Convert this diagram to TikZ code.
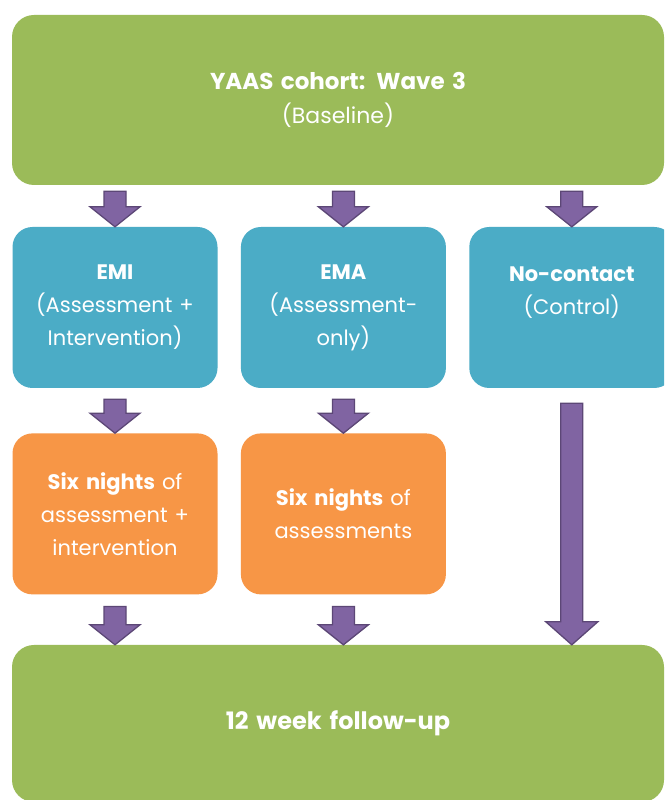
\documentclass[tikz,border=0pt]{standalone}
\usepackage{fontspec}
\setmainfont{Poppins}
\usetikzlibrary{calc,positioning}
\definecolor{wavegreen}{HTML}{9BBB59}
\definecolor{armblue}{HTML}{4BACC6}
\definecolor{nightorange}{HTML}{F79646}
\definecolor{arrowpurple}{HTML}{8064A2}
\definecolor{arrowedge}{HTML}{5C4776}
\tikzset{
		wavebox/.style={
			rectangle,
			rounded corners=22pt,
			fill=wavegreen,
			text=white,
			minimum width=652pt,
			minimum height=170pt,
			text width=640pt,
			align=center},
		armbox/.style={
			rectangle,
			rounded corners=20pt,
			minimum width=205pt,
			minimum height=161pt,
			text width=199pt,
			inner sep=0pt,
			align=center,
			text=white,
			font=\fontsize{21}{33}\selectfont},
		bluebox/.style={armbox, fill=armblue},
		orangebox/.style={armbox, fill=nightorange},
		fatarrow/.style={fill=arrowpurple, draw=arrowedge, line width=1.3pt, line join=miter},
	}
% block arrow: #1 head length, #2 head half width, #3 from, #4 to
\newcommand{\blockarrow}[4]{%
	\path[fatarrow] let \p1=#3, \p2=#4 in
		(\x1-11pt,\y1) -- (\x1+11pt,\y1) -- (\x1+11pt,\y2+#1) -- (\x1+#2,\y2+#1)
		-- (\x2,\y2) -- (\x1-#2,\y2+#1) -- (\x1-11pt,\y2+#1) -- cycle;}

\begin{document}
\begin{tikzpicture}[x=1pt, y=1pt, node distance=23pt]
	\useasboundingbox (0,0) rectangle (664,800);
	\clip (0,0) rectangle (664,800);
	\fill[white] (0,0) rectangle (664,800);

	\node[wavebox, font=\fontsize{22}{34}\selectfont] (base) at (338,700)
		{{\fontsize{23}{34}\selectfont\textbf{YAAS cohort: Wave 3}}\\(Baseline)};

	\node[bluebox] (emi) at (115,492.5) {\textbf{EMI}\\(Assessment +\\Intervention)};
	\node[bluebox, right=of emi] (ema) {\textbf{EMA}\\(Assessment-\\only)};
	\node[bluebox, right=of ema] (ctrl) {\textbf{No-contact}\\(Control)\\\phantom{X}};

	\node[orangebox, below=45pt of emi] (night1) {\textbf{Six nights} of\\assessment +\\intervention};
	\node[orangebox, below=45pt of ema] (night2) {\textbf{Six nights} of\\assessments};

	\node[wavebox, minimum height=157pt, font=\fontsize{24}{34}\selectfont] (follow) at (338,76.5)
		{\textbf{12 week follow-up}};

	%% arrows
	\blockarrow{20pt}{25pt}{($(emi.north |- base.south)+(0,-6pt)$)}{(emi.north)}
	\blockarrow{20pt}{25pt}{($(ema.north |- base.south)+(0,-6pt)$)}{(ema.north)}
	\blockarrow{20pt}{25pt}{($(ctrl.north |- base.south)+(0,-6pt)$)}{(ctrl.north)}

	\blockarrow{20pt}{25pt}{($(emi.south)+(0,-11pt)$)}{(night1.north)}
	\blockarrow{20pt}{25pt}{($(ema.south)+(0,-11pt)$)}{(night2.north)}

	\blockarrow{20pt}{25pt}{($(night1.south)+(0,-12pt)$)}{(night1.south |- follow.north)}
	\blockarrow{20pt}{25pt}{($(night2.south)+(0,-12pt)$)}{(night2.south |- follow.north)}
	\blockarrow{23pt}{26pt}{($(ctrl.south)+(0,-15pt)$)}{(ctrl.south |- follow.north)}
\end{tikzpicture}
\end{document}
